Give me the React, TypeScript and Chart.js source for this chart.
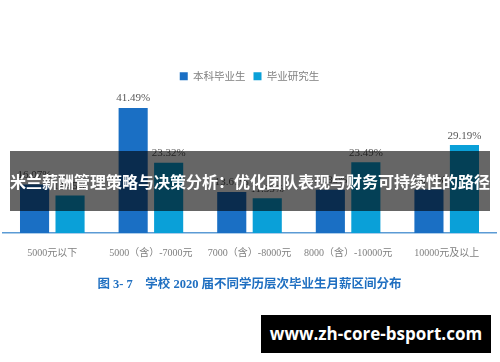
import React, { useEffect, useRef } from "react";
import { Chart, registerables } from "chart.js";

Chart.register(...registerables);

const categories = [
  "5000元以下",
  "5000（含）-7000元",
  "7000（含）-8000元",
  "8000（含）-10000元",
  "10000元及以上",
];
const seriesNames = ["本科毕业生", "毕业研究生"];
const undergradValues = [16.07, 41.49, 13.61, 14.35, 14.48];
const graduateValues = [12.45, 23.32, 11.55, 23.49, 29.19];
const chartTitle = "图 3- 7　学校 2020 届不同学历层次毕业生月薪区间分布";
const bannerText = "米兰薪酬管理策略与决策分析：优化团队表现与财务可持续性的路径";
const watermarkText = "www.zh-core-bsport.com";

const valueLabelPlugin = {
  id: "valueLabels",
  afterDatasetsDraw(chart: any) {
    const ctx = chart.ctx;
    ctx.save();
    ctx.font = "11px 'Liberation Serif', 'Noto Sans CJK SC'";
    ctx.fillStyle = "#595959";
    ctx.textAlign = "center";
    ctx.textBaseline = "bottom";
    chart.data.datasets.forEach((ds: any, i: number) => {
      const meta = chart.getDatasetMeta(i);
      meta.data.forEach((el: any, j: number) => {
        ctx.fillText(ds.data[j].toFixed(2) + "%", el.x, el.y - 4);
      });
    });
    ctx.restore();
  },
};

export default function App() {
  const ref = useRef<HTMLCanvasElement>(null);
  useEffect(() => {
    if (!ref.current) return;
    const chart = new Chart(ref.current, {
      type: "bar",
      data: {
        labels: categories,
        datasets: [
          {
            label: seriesNames[0],
            data: undergradValues,
            backgroundColor: "#1a6fc4",
            categoryPercentage: 0.72,
            barPercentage: 0.82,
          },
          {
            label: seriesNames[1],
            data: graduateValues,
            backgroundColor: "#0aa0d8",
            categoryPercentage: 0.72,
            barPercentage: 0.82,
          },
        ],
      },
      options: {
        animation: false,
        responsive: false,
        maintainAspectRatio: false,
        layout: { padding: { left: 3, right: 4, top: 63, bottom: 70 } },
        plugins: {
          legend: {
            position: "top",
            labels: {
              boxWidth: 8,
              boxHeight: 8,
              padding: 8,
              color: "#7f7f7f",
              font: { size: 10.5, family: "'Noto Sans CJK SC'" },
            },
          },
          title: {
            display: true,
            position: "bottom",
            text: chartTitle,
            color: "#1f6fc1",
            font: { size: 12.5, weight: "bold", family: "'Liberation Serif', 'Noto Sans CJK SC'" },
            padding: { top: 12, bottom: 0 },
          },
          tooltip: { enabled: false },
        },
        scales: {
          x: {
            grid: { display: false },
            border: { color: "#5b9bd5", width: 1.5 },
            ticks: {
              color: "#7f7f7f",
              font: { size: 10, family: "'Liberation Serif', 'Noto Sans CJK SC'" },
              maxRotation: 0,
              autoSkip: false,
              padding: 6,
            },
          },
          y: {
            display: false,
            min: 0,
            max: 47,
          },
        },
      },
      plugins: [valueLabelPlugin],
    });
    return () => chart.destroy();
  }, []);

  return (
    <div style={{ position: "absolute", left: 0, top: 0, width: 500, height: 362, background: "#fff" }}>
      <canvas ref={ref} width={500} height={362} style={{ display: "block", width: 500, height: 362 }} />
      <div
        style={{
          position: "absolute",
          left: 10,
          top: 151,
          width: 480,
          height: 60,
          background: "rgba(0,0,0,0.6)",
          color: "#fff",
          fontFamily: "'Noto Sans CJK SC', sans-serif",
          fontWeight: 700,
          fontSize: 16,
          lineHeight: "60px",
          textAlign: "center",
          whiteSpace: "nowrap",
          overflow: "hidden",
        }}
      >
        {bannerText}
      </div>
      <div
        style={{
          position: "absolute",
          left: 261,
          top: 315,
          width: 230,
          height: 38,
          background: "#000",
          color: "#fff",
          fontFamily: "'Open Sans', sans-serif",
          fontWeight: 700,
          fontSize: 17,
          lineHeight: "38px",
          textAlign: "center",
          whiteSpace: "nowrap",
        }}
      >
        {watermarkText}
      </div>
    </div>
  );
}
